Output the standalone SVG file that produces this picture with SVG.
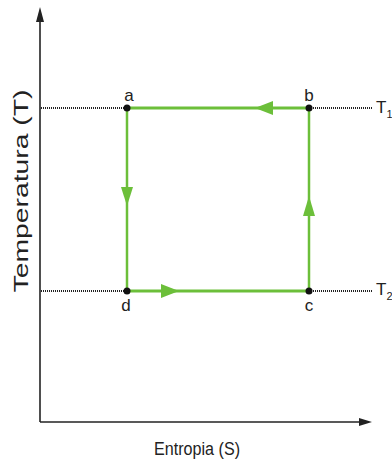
<svg xmlns="http://www.w3.org/2000/svg" width="392" height="462" viewBox="0 0 392 462">
<style>
.axis{stroke:#222;stroke-width:1.6;fill:none}
.iso{stroke:#222;stroke-width:2;stroke-dasharray:1 1;fill:none}
.cyc{stroke:#6cbf3a;fill:none}
.arr{fill:#6cbf3a}
.dot{fill:#111}
text{font-family:"Liberation Sans",Arial,sans-serif;fill:#222}
.lbl{font-size:17px}
</style>
<rect width="392" height="462" fill="#fff"/>
<g id="axes">
<line class="axis" x1="40" y1="20" x2="40" y2="422"/>
<line class="axis" x1="40" y1="422" x2="360" y2="422"/>
<polygon points="40,7 36,22 44,22" fill="#222"/>
<polygon points="372,422 359,418 359,426" fill="#222"/>
<text x="197" y="455" font-size="17.5" text-anchor="middle" textLength="86" lengthAdjust="spacingAndGlyphs">Entropia (S)</text>
<text x="28" y="191" font-size="21" text-anchor="middle" textLength="203" lengthAdjust="spacingAndGlyphs" transform="rotate(-90 28 191)">Temperatura (T)</text>
</g>
<g id="isotherms">
<line class="iso" x1="41" y1="108" x2="372" y2="108"/>
<line class="iso" x1="41" y1="291" x2="372" y2="291"/>
<text class="lbl" x="376" y="113">T<tspan font-size="11" dy="5">1</tspan></text>
<text class="lbl" x="376" y="295">T<tspan font-size="11" dy="5">2</tspan></text>
</g>
<g id="connectors">
<line class="cyc" stroke-width="3" x1="127" y1="108" x2="309" y2="108"/>
<line class="cyc" stroke-width="2.5" x1="309" y1="108" x2="309" y2="291"/>
<line class="cyc" stroke-width="3" x1="127" y1="291" x2="309" y2="291"/>
<line class="cyc" stroke-width="2.5" x1="127" y1="108" x2="127" y2="291"/>
<polygon class="arr" points="255,108 273,101 273,115"/>
<polygon class="arr" points="127,206 121,187 133,187"/>
<polygon class="arr" points="309,196 303,216 315,216"/>
<polygon class="arr" points="179,291 161,284 161,298"/>
</g>
<g id="a"><circle class="dot" cx="127" cy="108" r="3.5"/><text class="lbl" x="129" y="101" text-anchor="middle">a</text></g>
<g id="b"><circle class="dot" cx="309" cy="108" r="3.5"/><text class="lbl" x="309" y="101" text-anchor="middle">b</text></g>
<g id="c"><circle class="dot" cx="309" cy="291" r="3.5"/><text class="lbl" x="309" y="311" text-anchor="middle">c</text></g>
<g id="d"><circle class="dot" cx="127" cy="291" r="3.5"/><text class="lbl" x="126" y="311" text-anchor="middle">d</text></g>
</svg>
